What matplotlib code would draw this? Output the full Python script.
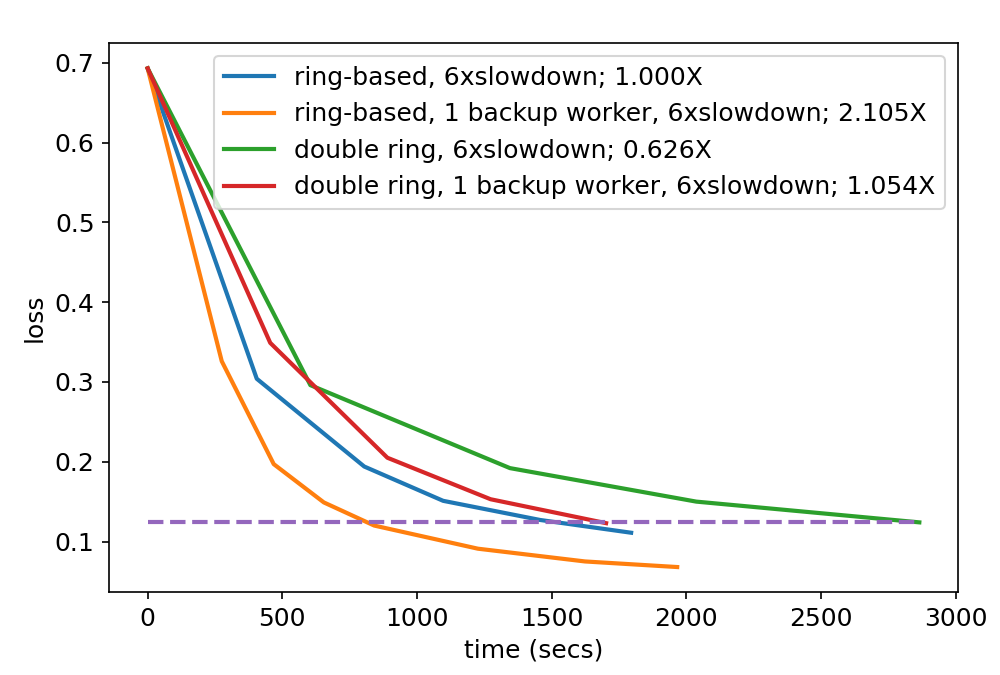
import matplotlib
matplotlib.use("Agg")
import matplotlib.pyplot as plt

ring_t = [0, 405, 804, 1097, 1457, 1795]
ring_loss = [0.693, 0.304, 0.194, 0.151, 0.127, 0.111]

ring_bk_t = [0, 275, 468, 654, 841, 1226, 1624, 1966]
ring_bk_loss = [0.693, 0.326, 0.197, 0.149, 0.120, 0.091, 0.075, 0.068]

dring_t = [0, 604, 1345, 2037, 2865]
dring_loss = [0.693, 0.296, 0.192, 0.150, 0.124]

dring_bk_t = [0, 455, 890, 1273, 1702]
dring_bk_loss = [0.693, 0.349, 0.205, 0.153, 0.123]

labels = [
    "ring-based, 6xslowdown; 1.000X",
    "ring-based, 1 backup worker, 6xslowdown; 2.105X",
    "double ring, 6xslowdown; 0.626X",
    "double ring, 1 backup worker, 6xslowdown; 1.054X",
]
target_t = [0, 2865]
target_loss = [0.125, 0.125]

plt.rcParams['font.family'] = ['DejaVu Sans']
plt.rcParams['font.size'] = 12

fig = plt.figure(figsize=(6.673, 4.5), dpi=150)
ax = fig.add_axes([0.109, 0.123, 0.848, 0.8126])

ax.plot(ring_t, ring_loss, color='C0', lw=2, label=labels[0])
ax.plot(ring_bk_t, ring_bk_loss, color='C1', lw=2, label=labels[1])
ax.plot(dring_t, dring_loss, color='C2', lw=2, label=labels[2])
ax.plot(dring_bk_t, dring_bk_loss, color='C3', lw=2, label=labels[3])
ax.plot(target_t, target_loss, '--', color='C4', lw=2)

ax.set_xlabel("time (secs)")
ax.set_ylabel("loss")
ax.legend(loc='upper right')

fig.savefig("out.png", dpi=150)
